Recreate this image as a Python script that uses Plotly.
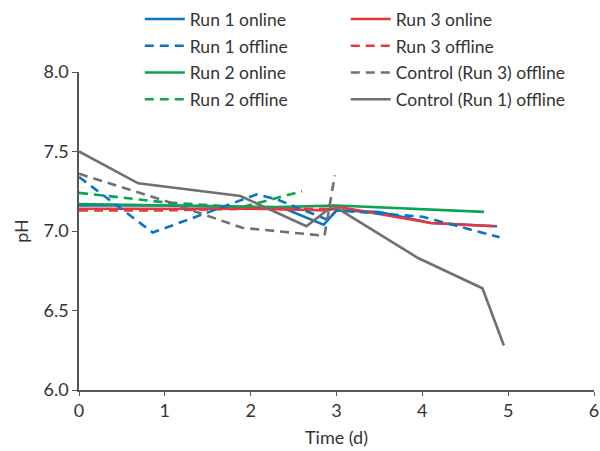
import plotly.graph_objects as go

# Data (time in days, pH)
run1_online_t = [0, 1.0, 2.0, 2.4, 2.85, 3.0, 3.5, 4.1, 4.87]
run1_online_ph = [7.16, 7.16, 7.15, 7.14, 7.04, 7.13, 7.12, 7.05, 7.03]

run1_offline_t = [0, 0.86, 2.07, 2.3, 2.9, 3.0, 4.0, 4.9]
run1_offline_ph = [7.34, 6.99, 7.23, 7.20, 7.07, 7.13, 7.09, 6.96]

run2_online_t = [0, 1.0, 2.3, 3.0, 4.72]
run2_online_ph = [7.17, 7.16, 7.15, 7.16, 7.12]

run2_offline_t = [0, 1.0, 1.9, 2.6]
run2_offline_ph = [7.24, 7.18, 7.15, 7.25]

run3_online_t = [0, 1.0, 2.0, 2.9, 3.04, 4.1, 4.84]
run3_online_ph = [7.14, 7.14, 7.14, 7.13, 7.15, 7.05, 7.03]

run3_offline_t = [0, 1.0, 2.0, 2.9]
run3_offline_ph = [7.13, 7.13, 7.14, 7.14]

ctrl3_offline_t = [0, 1.0, 1.9, 2.86, 2.98]
ctrl3_offline_ph = [7.36, 7.19, 7.02, 6.97, 7.35]

ctrl1_offline_t = [0, 0.69, 1.88, 2.65, 2.96, 3.95, 4.70, 4.95]
ctrl1_offline_ph = [7.50, 7.30, 7.22, 7.03, 7.16, 6.83, 6.64, 6.28]

BLUE = "#0b74c4"
GREEN = "#0aa550"
RED = "#e8383d"
GRAY = "#707070"
DASH = "9px,6px"
LW = 2.6

series = [
    # name, t, ph, color, dash, legend, rank
    ("Run 1 online", run1_online_t, run1_online_ph, BLUE, "solid", "legend", 1),
    ("Run 2 online", run2_online_t, run2_online_ph, GREEN, "solid", "legend", 3),
    ("Run 3 online", run3_online_t, run3_online_ph, RED, "solid", "legend2", 5),
    ("Run 3 offline", run3_offline_t, run3_offline_ph, RED, DASH, "legend2", 6),
    ("Run 2 offline", run2_offline_t, run2_offline_ph, GREEN, DASH, "legend", 4),
    ("Run 1 offline", run1_offline_t, run1_offline_ph, BLUE, DASH, "legend", 2),
    ("Control (Run 3) offline", ctrl3_offline_t, ctrl3_offline_ph, GRAY, DASH, "legend2", 7),
    ("Control (Run 1) offline", ctrl1_offline_t, ctrl1_offline_ph, GRAY, "solid", "legend2", 8),
]

fig = go.Figure()
for name, t, ph, color, dash, leg, rank in series:
    fig.add_trace(go.Scatter(
        x=t, y=ph, mode="lines", name=name,
        line=dict(color=color, width=LW, dash=dash),
        legend=leg, legendrank=rank, legendgroup=name,
    ))

FONT = dict(family="Lato, Open Sans, sans-serif", size=18, color="#333333")
LFONT = dict(family="Lato, Open Sans, sans-serif", size=17.5, color="#333333")

legend_common = dict(
    orientation="v", yanchor="top", xanchor="left",
    bgcolor="rgba(0,0,0,0)", font=LFONT, tracegroupgap=1,
    itemwidth=40,
)

fig.update_layout(
    width=600, height=451,
    margin=dict(l=79, r=6, t=72, b=61, autoexpand=False),
    plot_bgcolor="white", paper_bgcolor="white",
    font=FONT,
    showlegend=True,
    legend=dict(x=0.118, y=1.223, **legend_common),
    legend2=dict(x=0.518, y=1.223, **legend_common),
    xaxis=dict(
        range=[0, 6], dtick=1, tickformat="d",
        showline=True, linecolor="#555555", linewidth=1.5,
        ticks="outside", ticklen=4, tickcolor="#555555", tickwidth=1.2,
        showgrid=False, zeroline=False, automargin=False,
        title=dict(text="Time (d)", standoff=11, font=FONT),
        tickfont=FONT,
    ),
    yaxis=dict(
        range=[6, 8], dtick=0.5, tickformat=".1f",
        showline=True, linecolor="#555555", linewidth=1.5,
        ticks="outside", ticklen=5, tickcolor="#555555", tickwidth=1.2,
        showgrid=False, zeroline=False, automargin=False,
        title=dict(text="pH", standoff=10, font=FONT),
        tickfont=FONT,
    ),
)

fig.write_html(
    "out.html",
    config={"displayModeBar": False},
    post_script="document.body.style.margin='0';document.body.style.overflow='hidden';",
)
